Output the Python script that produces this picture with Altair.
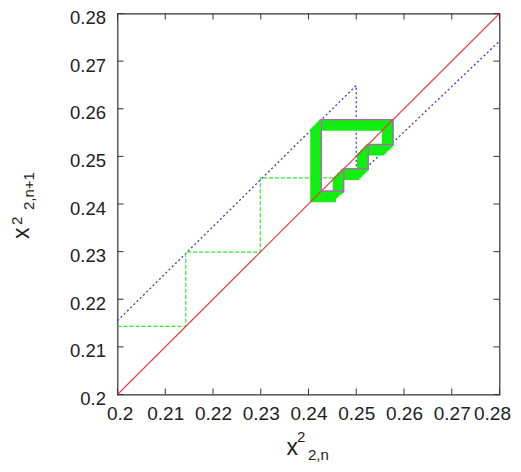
import altair as alt
import pandas as pd

# ---- data ----
tick_values = [0.2, 0.21, 0.22, 0.23, 0.24, 0.25, 0.26, 0.27, 0.28]
diag_x = [0.2, 0.28]
diag_y = [0.2, 0.28]
map_x = [0.2, 0.25, 0.25, 0.28]
map_y = [0.2155, 0.2649, 0.2456, 0.2742]
green_start_x = 0.2
green_lead = [0.2143, 0.2299, 0.2455, 0.2406]
green_band = [0.2455,
              0.2406, 0.2556, 0.2504, 0.2453,
              0.2409, 0.2559, 0.2507, 0.2456,
              0.2412, 0.2562, 0.2510, 0.2459,
              0.2415, 0.2565, 0.2513, 0.2462,
              0.2418, 0.2568, 0.2516, 0.2465,
              0.2421, 0.2571, 0.2519, 0.2468,
              0.2423, 0.2573, 0.2521, 0.2470,
              0.2425, 0.2575, 0.2523, 0.2472,
              0.2426, 0.2576, 0.2524, 0.2473]
orbit_seq = [0.2427, 0.2577, 0.2525, 0.2474, 0.2427]

W, H = 382, 381
FONT = "Liberation Sans"

def cobweb(seq, start_x=None):
    pts = []
    if start_x is not None:
        pts.append((start_x, seq[0]))
    else:
        pts.append((seq[0], seq[0]))
    for i in range(len(seq)):
        pts.append((seq[i], seq[i]))
        if i + 1 < len(seq):
            pts.append((seq[i], seq[i + 1]))
    return pd.DataFrame({"x": [p[0] for p in pts], "y": [p[1] for p in pts],
                         "i": list(range(len(pts)))})

lead_df = cobweb(green_lead, green_start_x)
band_df = cobweb(green_band)
orbit_df = cobweb(orbit_seq)
diag_df = pd.DataFrame({"x": diag_x, "y": diag_y, "i": [0, 1]})
map_df = pd.DataFrame({"x": map_x, "y": map_y, "i": list(range(len(map_x)))})
ticks_df = pd.DataFrame({"v": tick_values})

xs = alt.Scale(domain=[0.2, 0.28], nice=False, zero=False)
ys = alt.Scale(domain=[0.2, 0.28], nice=False, zero=False)

xaxis = alt.Axis(values=tick_values, format=".2~f", title=None, grid=False, domain=False,
                 ticks=False, labelFont=FONT, labelFontSize=19, labelColor="#222",
                 labelPadding=10, labelFlush=True, labelFlushOffset=11)
yaxis = alt.Axis(values=tick_values, format=".2~f", title=None, grid=False, domain=False,
                 ticks=False, labelFont=FONT, labelFontSize=18.5, labelColor="#222",
                 labelPadding=12, labelFlush=False, labelOffset=4)

def line_layer(df, color, width, dash=None):
    kw = dict(color=color, strokeWidth=width, clip=True)
    if dash:
        kw["strokeDash"] = dash
    return alt.Chart(df).mark_line(**kw).encode(
        x=alt.X("x:Q", scale=xs, axis=xaxis),
        y=alt.Y("y:Q", scale=ys, axis=yaxis),
        order="i:Q",
    )

blue = line_layer(map_df, "#3a3ad0", 1.3, [2, 2.5])
lead = line_layer(lead_df, "#33e633", 1.2, [4, 2])
band = line_layer(band_df, "#11ee11", 2.3)
red = line_layer(diag_df, "#e83c3c", 1.1)
magenta = line_layer(orbit_df, "#e040e0", 1.1)

tick_col = "#333"
tb = alt.Chart(ticks_df).mark_rule(color=tick_col, strokeWidth=1).encode(
    x=alt.X("v:Q", scale=xs), y=alt.value(H), y2=alt.value(H - 6))
tt = alt.Chart(ticks_df).mark_rule(color=tick_col, strokeWidth=1).encode(
    x=alt.X("v:Q", scale=xs), y=alt.value(0), y2=alt.value(6))
tl = alt.Chart(ticks_df).mark_rule(color=tick_col, strokeWidth=1).encode(
    y=alt.Y("v:Q", scale=ys), x=alt.value(0), x2=alt.value(6))
tr = alt.Chart(ticks_df).mark_rule(color=tick_col, strokeWidth=1).encode(
    y=alt.Y("v:Q", scale=ys), x=alt.value(W), x2=alt.value(W - 6))

def txt(s, x, y, size, angle=0):
    kw = dict(font=FONT, fontSize=size, color="#222", align="left", baseline="alphabetic")
    if angle:
        kw["angle"] = angle
    return alt.Chart(pd.DataFrame({"a": [0]})).mark_text(**kw).encode(
        x=alt.value(x), y=alt.value(y), text=alt.value(s))

titles = [
    txt("x", 169.0, 441.5, 23),
    txt("2", 179.5, 428.5, 15),
    txt("2,n", 190.5, 446.0, 15),
    txt("x", -88.5, 225.5, 23, 270),
    txt("2", -96, 211.5, 15, 270),
    txt("2,n+1", -84, 196.5, 15, 270),
]

chart = alt.layer(blue, lead, band, red, magenta, tb, tt, tl, tr, *titles).properties(
    width=W, height=H,
    autosize=alt.AutoSizeParams(type="none"),
    padding={"left": 109.5, "top": 5.5, "right": 13, "bottom": 69},
).configure_view(stroke="#333", strokeWidth=1.2)

chart.save("out.html", embed_options={"renderer": "svg", "actions": False})
